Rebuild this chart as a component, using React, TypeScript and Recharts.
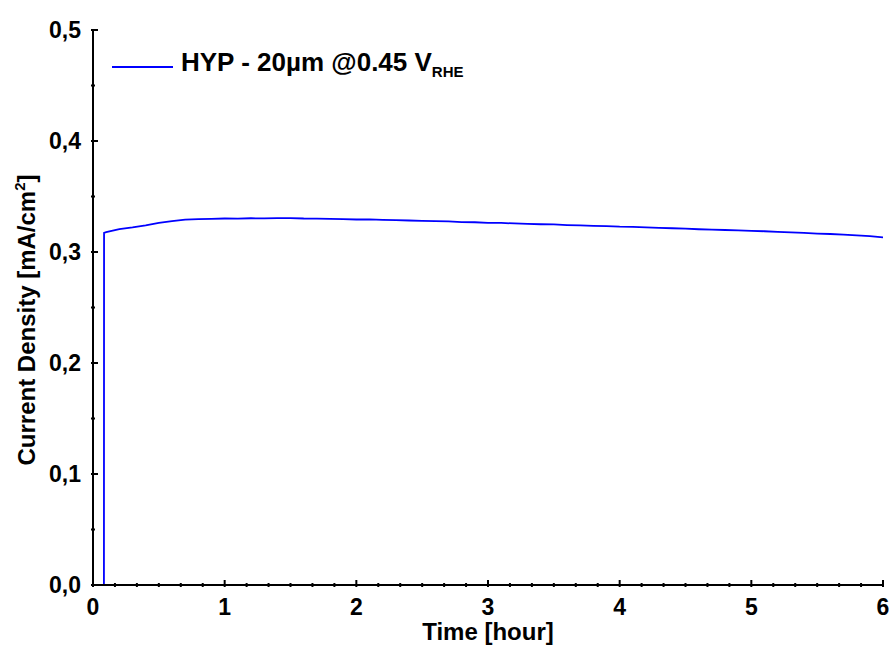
import React from "react";
import {
  LineChart,
  Line,
  XAxis,
  YAxis,
} from "recharts";

// time in hours
const hours = [
  0, 0.083, 0.084, 0.1, 0.2, 0.3, 0.4, 0.5, 0.6, 0.7, 0.8, 0.9, 1.0, 1.1, 1.2,
  1.3, 1.4, 1.5, 1.6, 1.7, 1.8, 1.9, 2.0, 2.1, 2.2, 2.3, 2.4, 2.5, 2.6, 2.7,
  2.8, 2.9, 3.0, 3.1, 3.2, 3.3, 3.4, 3.5, 3.6, 3.7, 3.8, 3.9, 4.0, 4.1, 4.2,
  4.3, 4.4, 4.5, 4.6, 4.7, 4.8, 4.9, 5.0, 5.1, 5.2, 5.3, 5.4, 5.5, 5.6, 5.7,
  5.8, 5.9, 6.0,
];

// current density in mA/cm2
const currentDensity = [
  0, 0, 0.3172, 0.3178, 0.3207, 0.3222, 0.324, 0.3262, 0.3278, 0.3292, 0.3297,
  0.3299, 0.3302, 0.33, 0.3304, 0.3303, 0.3305, 0.3306, 0.3302, 0.3301, 0.3298,
  0.3296, 0.3293, 0.3294, 0.329, 0.3287, 0.3284, 0.3281, 0.3278, 0.3275, 0.327,
  0.3268, 0.3263, 0.3262, 0.3257, 0.3254, 0.325, 0.3248, 0.3243, 0.324, 0.3236,
  0.3233, 0.3228, 0.3226, 0.3222, 0.3218, 0.3214, 0.321, 0.3205, 0.3202, 0.3198,
  0.3195, 0.319, 0.3187, 0.3182, 0.3176, 0.3172, 0.3166, 0.3162, 0.3156, 0.315,
  0.3143, 0.3132,
];

const seriesName = "HYP - 20\u00b5m @0.45 V";
const seriesSub = "RHE";

const xTicks = Array.from({ length: 37 }, (_, i) => i / 6);
const yTicks = Array.from({ length: 11 }, (_, i) => i * 0.05);

const data = hours.map((t, i) => ({ t, j: currentDensity[i] }));

const FONT = "'Liberation Sans', Arial, sans-serif";
const isMajorX = (v: number) => Math.abs(v - Math.round(v)) < 1e-6;
const isMajorY = (v: number) => Math.abs(v * 10 - Math.round(v * 10)) < 1e-6;

const BottomTick = ({ x, y, payload }: any) => {
  const major = isMajorX(payload.value);
  return (
    <g>
      <line x1={x} x2={x} y1={y} y2={y - (major ? 7 : 4)} stroke="#000" strokeWidth={2} />
      {major && (
        <text x={x} y={y + 28} textAnchor="middle" fontSize={23} fontWeight="bold" fontFamily={FONT} fill="#000">
          {Math.round(payload.value)}
        </text>
      )}
    </g>
  );
};

const TopTick = ({ x, y, payload }: any) => {
  const major = isMajorX(payload.value);
  return <line x1={x} x2={x} y1={y} y2={y + (major ? 7 : 4)} stroke="#000" strokeWidth={2} />;
};

const LeftTick = ({ x, y, payload }: any) => {
  const major = isMajorY(payload.value);
  return (
    <g>
      <line x1={x} x2={x + (major ? 7 : 4)} y1={y} y2={y} stroke="#000" strokeWidth={2} />
      {major && (
        <text x={x - 10} y={y + 8} textAnchor="end" fontSize={23} fontWeight="bold" fontFamily={FONT} fill="#000">
          {payload.value.toFixed(1).replace(".", ",")}
        </text>
      )}
    </g>
  );
};

const RightTick = ({ x, y, payload }: any) => {
  const major = isMajorY(payload.value);
  return <line x1={x} x2={x - (major ? 7 : 4)} y1={y} y2={y} stroke="#000" strokeWidth={2} />;
};

const YLabel = () => (
  <text
    transform="translate(35, 320) rotate(-90)"
    textAnchor="middle"
    fontSize={24}
    fontWeight="bold"
    fontFamily={FONT}
    fill="#000"
  >
    Current Density [mA/cm
    <tspan dy={-10} fontSize={15}>2</tspan>
    <tspan dy={10}>]</tspan>
  </text>
);

const XLabel = () => (
  <text x={488} y={640} textAnchor="middle" fontSize={24} fontWeight="bold" fontFamily={FONT} fill="#000">
    Time [hour]
  </text>
);

export default function App() {
  return (
    <div style={{ position: "absolute", left: 0, top: 0, width: 890, height: 646, background: "#fff" }}>
      <LineChart
        width={890}
        height={646}
        data={data}
        margin={{ top: 30, right: 7, bottom: 0, left: 0 }}
      >
        <XAxis
          dataKey="t"
          type="number"
          domain={[0, 6]}
          ticks={xTicks}
          interval={0}
          tick={<BottomTick />}
          tickLine={false}
          tickSize={0}
          height={61}
          axisLine={{ stroke: "#000", strokeWidth: 2 }}
          label={<XLabel />}
          allowDataOverflow
        />
        <XAxis
          xAxisId="top"
          dataKey="t"
          type="number"
          orientation="top"
          domain={[0, 6]}
          ticks={xTicks}
          interval={0}
          tick={<TopTick />}
          tickLine={false}
          tickSize={0}
          height={0}
          axisLine={{ stroke: "#000", strokeWidth: 2 }}
          allowDataOverflow
        />
        <YAxis
          type="number"
          domain={[0, 0.5]}
          ticks={yTicks}
          interval={0}
          tick={<LeftTick />}
          tickLine={false}
          tickSize={0}
          width={93}
          axisLine={{ stroke: "#000", strokeWidth: 2 }}
          label={<YLabel />}
          allowDataOverflow
        />
        <YAxis
          yAxisId="right"
          type="number"
          orientation="right"
          domain={[0, 0.5]}
          ticks={yTicks}
          interval={0}
          tick={<RightTick />}
          tickLine={false}
          tickSize={0}
          width={0}
          axisLine={{ stroke: "#000", strokeWidth: 2 }}
          allowDataOverflow
        />
        <Line
          type="linear"
          dataKey="j"
          stroke="#0000ff"
          strokeWidth={1.8}
          dot={false}
          isAnimationActive={false}
        />
      </LineChart>
      <div
        style={{
          position: "absolute",
          left: 112,
          top: 47,
          display: "flex",
          alignItems: "center",
          fontFamily: FONT,
          fontWeight: "bold",
        }}
      >
        <div style={{ width: 61, height: 1.5, background: "#0000ff", marginRight: 8 }} />
        <span style={{ fontSize: 26, whiteSpace: "nowrap", lineHeight: "30px" }}>
          {seriesName}
          <sub style={{ fontSize: 15 }}>{seriesSub}</sub>
        </span>
      </div>
    </div>
  );
}
